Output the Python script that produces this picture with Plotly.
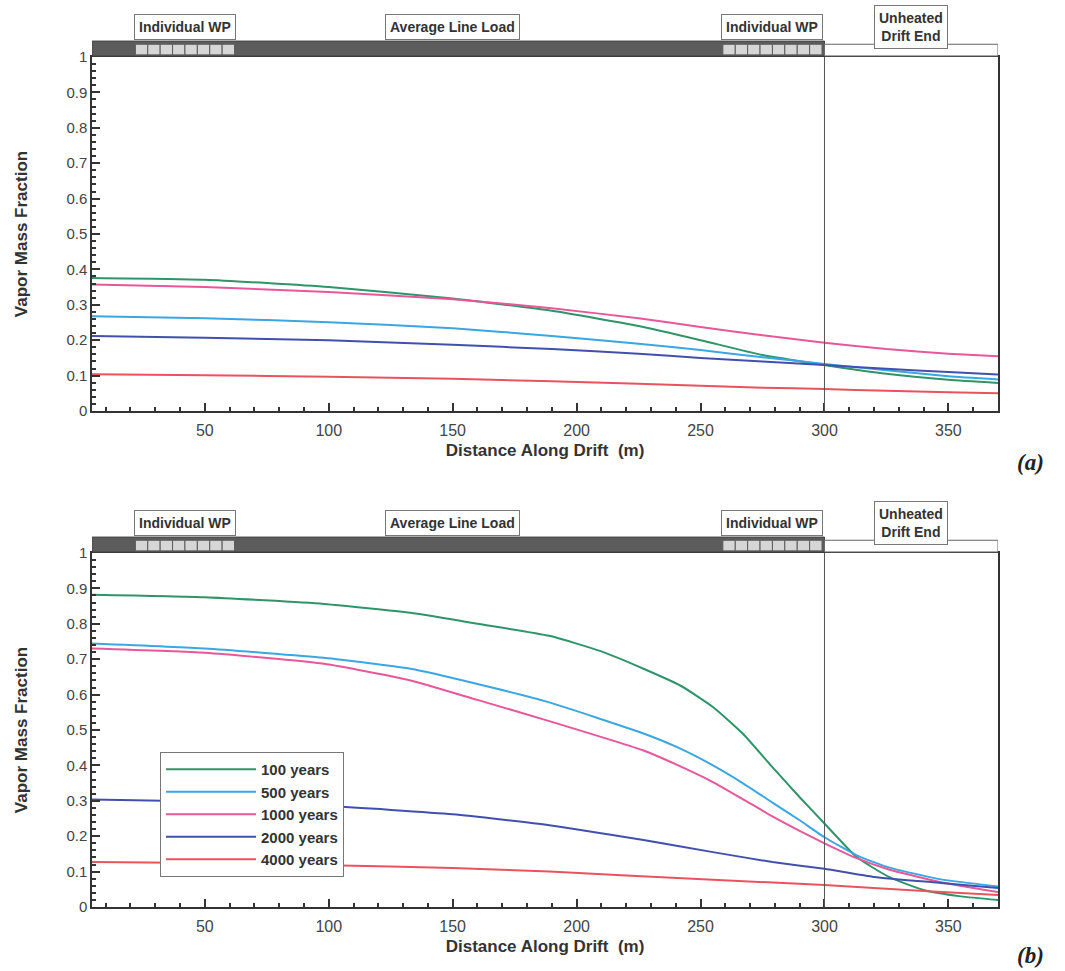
import plotly.graph_objects as go

# ---------------- data ----------------
SERIES_NAMES = ["100 years", "500 years", "1000 years", "2000 years", "4000 years"]
SERIES_COLORS = ["#2f9468", "#3aa6e2", "#e8579a", "#4150ad", "#e9535e"]

# (a) panel
A_X = {
    "100 years":  [4.5, 50, 100, 150, 190, 225, 250, 275, 300, 325, 350, 370],
    "500 years":  [4.5, 50, 100, 150, 190, 225, 250, 275, 300, 325, 350, 370],
    "1000 years": [4.5, 50, 100, 150, 190, 225, 250, 275, 300, 325, 350, 370],
    "2000 years": [4.5, 50, 100, 150, 190, 225, 250, 275, 300, 325, 350, 370],
    "4000 years": [4.5, 50, 100, 150, 190, 225, 250, 275, 300, 325, 350, 370],
}
A_Y = {
    "100 years":  [0.376, 0.371, 0.350, 0.318, 0.283, 0.240, 0.200, 0.158, 0.130, 0.105, 0.088, 0.079],
    "500 years":  [0.268, 0.262, 0.251, 0.234, 0.212, 0.190, 0.172, 0.152, 0.133, 0.115, 0.098, 0.089],
    "1000 years": [0.357, 0.350, 0.336, 0.316, 0.290, 0.262, 0.237, 0.214, 0.193, 0.175, 0.162, 0.155],
    "2000 years": [0.212, 0.207, 0.200, 0.187, 0.175, 0.162, 0.150, 0.140, 0.130, 0.119, 0.110, 0.103],
    "4000 years": [0.104, 0.101, 0.097, 0.091, 0.084, 0.077, 0.071, 0.066, 0.062, 0.057, 0.053, 0.050],
}

# (b) panel
B_X = {
    "100 years":  [4.5, 50, 98, 133, 160, 189, 210, 227, 242, 255, 267, 279, 290, 300, 313, 326, 340, 355, 370],
    "500 years":  [4.5, 50, 98, 133, 160, 189, 227, 241, 255, 267, 279, 290, 300, 313, 326, 347, 370],
    "1000 years": [4.5, 50, 98, 133, 160, 189, 227, 241, 255, 267, 279, 290, 300, 313, 326, 347, 370],
    "2000 years": [4.5, 50, 100, 150, 189, 227, 255, 279, 300, 320, 347, 370],
    "4000 years": [4.5, 50, 100, 150, 189, 255, 300, 340, 370],
}
B_Y = {
    "100 years":  [0.882, 0.875, 0.856, 0.831, 0.800, 0.766, 0.722, 0.673, 0.625, 0.565, 0.490, 0.395, 0.310, 0.236, 0.141, 0.085, 0.048, 0.030, 0.020],
    "500 years":  [0.744, 0.730, 0.704, 0.673, 0.630, 0.578, 0.490, 0.450, 0.400, 0.350, 0.295, 0.245, 0.197, 0.146, 0.112, 0.078, 0.058],
    "1000 years": [0.730, 0.718, 0.687, 0.640, 0.585, 0.525, 0.442, 0.400, 0.353, 0.305, 0.256, 0.215, 0.180, 0.138, 0.106, 0.070, 0.042],
    "2000 years": [0.304, 0.298, 0.285, 0.262, 0.231, 0.189, 0.155, 0.127, 0.108, 0.085, 0.068, 0.054],
    "4000 years": [0.127, 0.124, 0.118, 0.110, 0.100, 0.077, 0.062, 0.045, 0.034],
}

# drift layout (m)
X_MIN, X_MAX = 4.5, 370
HEATED_END = 300
WP_GROUPS = [(22, 62), (259, 299)]
N_WP = 8
ZONE_LABELS = ["Individual WP", "Average Line Load", "Individual WP", "Unheated<br>Drift End"]
ZONE_LABEL_X = [(22 + 62) / 2, 150, (259 + 299) / 2, (300 + 370) / 2]

X_TICKS = [50, 100, 150, 200, 250, 300, 350]
X_TITLE = "Distance Along Drift  (m)"
Y_TITLE = "Vapor Mass Fraction"
PANEL_TAGS = ["(a)", "(b)"]

# ---------------- figure ----------------
W, H = 1065, 971
XDOM = [92 / W, 998 / W]
YDOM_A = [(H - 411) / H, (H - 57) / H]
YDOM_B = [(H - 907) / H, (H - 553) / H]

fig = go.Figure()

for name, col in zip(SERIES_NAMES, SERIES_COLORS):
    fig.add_trace(go.Scatter(x=A_X[name], y=A_Y[name], mode="lines", name=name,
                             line=dict(color=col, width=2, shape="spline", smoothing=0.5),
                             xaxis="x", yaxis="y", showlegend=False))
for name, col in zip(SERIES_NAMES, SERIES_COLORS):
    fig.add_trace(go.Scatter(x=B_X[name], y=B_Y[name], mode="lines", name=name,
                             line=dict(color=col, width=2, shape="spline", smoothing=0.5),
                             xaxis="x2", yaxis="y2", showlegend=True))

FONT = "Liberation Sans, Arial, sans-serif"
tickfont = dict(family=FONT, size=16, color="#444")
titlefont = dict(family=FONT, size=17, color="#333", weight="bold")

def xaxis_cfg(anchor):
    return dict(domain=XDOM, anchor=anchor, range=[X_MIN, X_MAX],
                tickvals=X_TICKS, ticks="inside", ticklen=8, tickwidth=1.5, tickcolor="#333",
                minor=dict(dtick=10, tick0=0, ticks="inside", ticklen=4, tickcolor="#333"),
                showline=True, linecolor="#333", linewidth=1.5, mirror=True,
                showgrid=False, zeroline=False, tickfont=tickfont, ticklabelstandoff=4,
                title=dict(text=X_TITLE, font=titlefont, standoff=6))

def yaxis_cfg(anchor, dom):
    return dict(domain=dom, anchor=anchor, range=[0, 1], dtick=0.1, tick0=0,
                ticks="inside", ticklen=8, tickwidth=1.5, tickcolor="#333",
                minor=dict(dtick=0.02, tick0=0, ticks="inside", ticklen=4, tickcolor="#333"),
                showline=True, linecolor="#333", linewidth=1.5, mirror=True,
                showgrid=False, zeroline=False, tickfont=dict(family=FONT, size=15, color="#444"),
                title=dict(text=Y_TITLE, font=titlefont, standoff=34))

fig.update_layout(
    width=W, height=H, margin=dict(l=0, r=0, t=0, b=0, pad=0, autoexpand=False),
    paper_bgcolor="white", plot_bgcolor="white",
    xaxis=xaxis_cfg("y"), yaxis=yaxis_cfg("x", YDOM_A),
    xaxis2=xaxis_cfg("y2"), yaxis2=yaxis_cfg("x2", YDOM_B),
    legend=dict(x=160 / W, y=(H - 752) / H, xanchor="left", yanchor="top",
                bgcolor="white", bordercolor="#777", borderwidth=1, itemwidth=90,
                font=dict(family=FONT, size=15, color="#333", weight="bold")),
    showlegend=True,
)

shapes = []
annotations = []
for xr, yr, tag, tag_y in [("x", "y", PANEL_TAGS[0], (H - 462) / H), ("x2", "y2", PANEL_TAGS[1], (H - 955) / H)]:
    ydom = yr + " domain"
    # heated drift bar
    shapes.append(dict(type="rect", xref=xr, yref=ydom, x0=X_MIN, x1=HEATED_END, y0=1.003, y1=1.045,
                       fillcolor="#5c5c5c", line=dict(color="#444", width=1), layer="above"))
    # unheated end
    shapes.append(dict(type="rect", xref=xr, yref=ydom, x0=HEATED_END, x1=X_MAX, y0=1.003, y1=1.036,
                       fillcolor="white", line=dict(color="#666", width=1), layer="above"))
    # individual waste packages
    for g0, g1 in WP_GROUPS:
        step = (g1 - g0) / N_WP
        for k in range(N_WP):
            shapes.append(dict(type="rect", xref=xr, yref=ydom, x0=g0 + k * step, x1=g0 + (k + 1) * step,
                               y0=1.006, y1=1.036, fillcolor="#d6d6d6",
                               line=dict(color="#5c5c5c", width=1), layer="above"))
    # vertical reference line at end of heated drift
    shapes.append(dict(type="line", xref=xr, yref=ydom, x0=HEATED_END, x1=HEATED_END, y0=0, y1=1,
                       line=dict(color="#555", width=1)))
    for lab, lx in zip(ZONE_LABELS, ZONE_LABEL_X):
        annotations.append(dict(xref=xr, yref=ydom, x=lx, y=1.085, text=lab, showarrow=False,
                                xanchor="center", yanchor="middle", align="center",
                                font=dict(family=FONT, size=14, color="#333", weight="bold"),
                                bgcolor="white", bordercolor="#777", borderwidth=1, borderpad=4))
    annotations.append(dict(xref="paper", yref="paper", x=1030 / W, y=tag_y, text=tag, showarrow=False,
                            xanchor="center", yanchor="middle",
                            font=dict(family="Liberation Serif, Times New Roman, serif", size=23,
                                      color="#222", weight="bold", style="italic")))

fig.update_layout(shapes=shapes, annotations=annotations)
fig.write_html("out.html")
